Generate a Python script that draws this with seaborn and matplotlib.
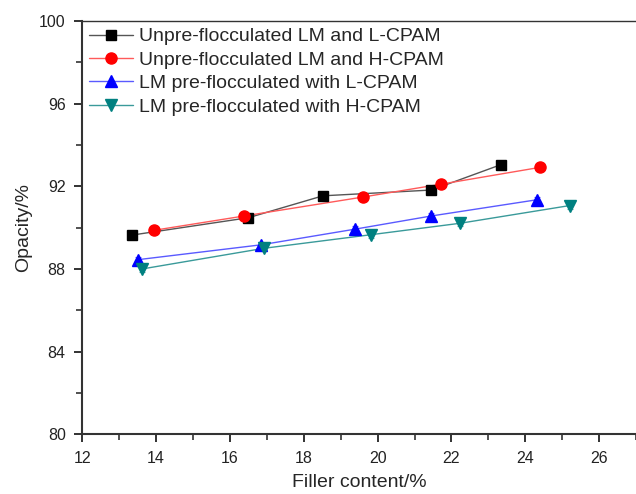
import matplotlib
matplotlib.use("Agg")
import matplotlib.pyplot as plt
import numpy as np
import pandas as pd
import seaborn as sns
from matplotlib.lines import Line2D
from matplotlib.ticker import MultipleLocator

sns.set_theme(style="ticks")
plt.rcParams["font.family"] = ["Liberation Sans", "DejaVu Sans"]

series_names = [
    "Unpre-flocculated LM and L-CPAM",
    "Unpre-flocculated LM and H-CPAM",
    "LM pre-flocculated with L-CPAM",
    "LM pre-flocculated with H-CPAM",
]
filler_unpre_l = [13.35, 16.50, 18.52, 21.46, 23.33]
opacity_unpre_l = [89.64, 90.48, 91.54, 91.82, 93.04]
filler_unpre_h = [13.94, 16.37, 19.60, 21.71, 24.41]
opacity_unpre_h = [89.87, 90.56, 91.48, 92.10, 92.92]
filler_pre_l = [13.51, 16.85, 19.40, 21.44, 24.32]
opacity_pre_l = [88.45, 89.17, 89.93, 90.56, 91.35]
filler_pre_h = [13.62, 16.92, 19.83, 22.23, 25.21]
opacity_pre_h = [88.00, 89.00, 89.66, 90.21, 91.07]
opacity_err = [0.15, 0.15, 0.15, 0.15, 0.15]

xs = [filler_unpre_l, filler_unpre_h, filler_pre_l, filler_pre_h]
ys = [opacity_unpre_l, opacity_unpre_h, opacity_pre_l, opacity_pre_h]
colors = ["#000000", "#ff0000", "#0000ff", "#008080"]
line_colors = ["#555555", "#ff5a5a", "#5a5aff", "#3a9a9a"]
markers = ["s", "o", "^", "v"]

frames = []
for name, x, y in zip(series_names, xs, ys):
    frames.append(pd.DataFrame({"Filler": x, "Opacity": y, "Series": name}))
df = pd.concat(frames, ignore_index=True)

fig = plt.figure(figsize=(6.36, 4.94), dpi=100)
ax = fig.add_axes([0.1294, 0.1209, 0.8706, 0.8366])

for name, c, lc, m in zip(series_names, colors, line_colors, markers):
    sub = df[df["Series"] == name]
    ax.errorbar(sub["Filler"], sub["Opacity"], yerr=opacity_err, fmt="none",
                ecolor=c, elinewidth=0.8, capsize=2.5, capthick=0.8, zorder=2, alpha=0.6)
    sns.lineplot(data=sub, x="Filler", y="Opacity", ax=ax, sort=False,
                 color=lc, linewidth=1.0, zorder=3, legend=False)
    ax.plot(sub["Filler"], sub["Opacity"], linestyle="none", marker=m,
            markersize=7.5 if m == "s" else 8, color=c, markeredgecolor=c, zorder=4)

handles = [Line2D([], [], color=lc, linewidth=1.0, marker=m, markersize=7 if m == "s" else 8,
                  markerfacecolor=c, markeredgecolor=c)
           for c, lc, m in zip(colors, line_colors, markers)]
ax.legend(handles, series_names, loc="upper left", frameon=False, fontsize=14,
          handlelength=2.25, handletextpad=0.3, labelspacing=0.3,
          borderpad=0.35, borderaxespad=0.0, bbox_to_anchor=(0.0, 1.0))

ax.set_xlim(12, 27)
ax.set_ylim(80, 100)
ax.xaxis.set_major_locator(MultipleLocator(2))
ax.xaxis.set_minor_locator(MultipleLocator(1))
ax.yaxis.set_major_locator(MultipleLocator(4))
ax.yaxis.set_minor_locator(MultipleLocator(2))
ax.tick_params(which="major", direction="out", length=6, width=1.3, labelsize=11.5, colors="#222222")
ax.tick_params(which="minor", direction="out", length=4, width=1.1, colors="#222222")
ax.tick_params(axis="x", which="major", pad=6)
ax.tick_params(axis="y", which="major", pad=6)

for side in ["left", "bottom"]:
    ax.spines[side].set_linewidth(1.5)
    ax.spines[side].set_color("#333333")
ax.spines["top"].set_linewidth(1.0)
ax.spines["top"].set_color("#333333")
ax.spines["right"].set_visible(False)

ax.set_xlabel("Filler content/%", fontsize=14, labelpad=6)
ax.set_ylabel("Opacity/%", fontsize=14, labelpad=5)

fig.savefig("out.png", dpi=100)
